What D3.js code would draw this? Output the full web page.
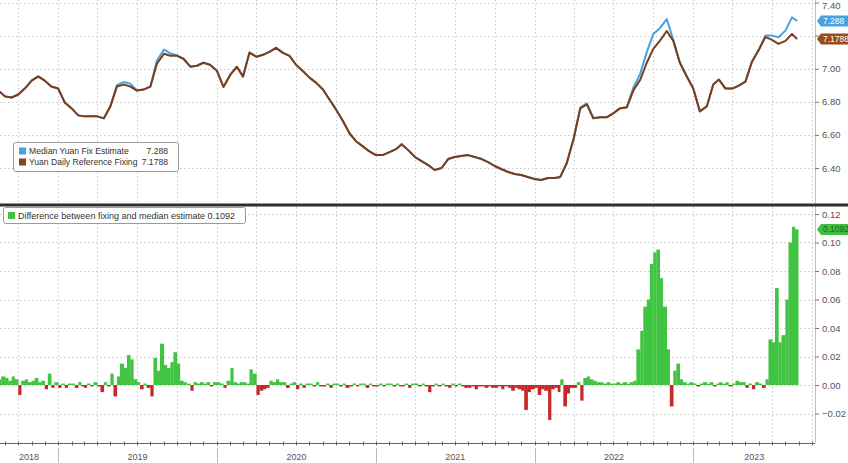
<!DOCTYPE html>
<html><head><meta charset="utf-8">
<script src="https://cdn.jsdelivr.net/npm/d3@7"></script>
<style>
body{margin:0;background:#fff;overflow:hidden;}
svg{display:block;font-family:"Liberation Sans",Arial,sans-serif;}
</style>
</head><body>
<svg id="c" width="848" height="463"></svg>
<script>
// ---------- DATA ----------
const lineDates = [
"2018-08-01","2018-08-16","2018-09-01","2018-09-16","2018-10-01","2018-10-16","2018-11-01","2018-11-16","2018-12-01","2018-12-16",
"2019-01-01","2019-01-16","2019-02-01","2019-02-16","2019-03-01","2019-03-16","2019-04-01","2019-04-16","2019-05-01","2019-05-16","2019-06-01","2019-06-16",
"2019-07-01","2019-07-16","2019-08-01","2019-08-16","2019-09-01","2019-09-16","2019-10-01","2019-10-16","2019-11-01","2019-11-16","2019-12-01","2019-12-16",
"2020-01-01","2020-01-16","2020-02-01","2020-02-16","2020-03-01","2020-03-16","2020-04-01","2020-04-16","2020-05-01","2020-05-16","2020-06-01","2020-06-16",
"2020-07-01","2020-07-16","2020-08-01","2020-08-16","2020-09-01","2020-09-16","2020-10-01","2020-10-16","2020-11-01","2020-11-16","2020-12-01","2020-12-16",
"2021-01-01","2021-01-16","2021-02-01","2021-02-16","2021-03-01","2021-03-16","2021-04-01","2021-04-16","2021-05-01","2021-05-16","2021-06-01","2021-06-16",
"2021-07-01","2021-07-16","2021-08-01","2021-08-16","2021-09-01","2021-09-16","2021-10-01","2021-10-16","2021-11-01","2021-11-16","2021-12-01","2021-12-16",
"2022-01-01","2022-01-16","2022-02-01","2022-02-16","2022-03-01","2022-03-16","2022-04-01","2022-04-16","2022-05-01","2022-05-16","2022-06-01","2022-06-16",
"2022-07-01","2022-07-16","2022-08-01","2022-08-16","2022-09-01","2022-09-16","2022-10-01","2022-10-16","2022-11-01","2022-11-16","2022-12-01","2022-12-16",
"2023-01-01","2023-01-16","2023-02-01","2023-02-16","2023-03-01","2023-03-16","2023-04-01","2023-04-16","2023-05-01","2023-05-16","2023-06-01","2023-06-16",
"2023-07-01","2023-07-16","2023-08-01","2023-08-16","2023-08-28"];

const fixValues = [
6.868,6.868,6.832,6.826,6.844,6.880,6.928,6.952,6.928,6.892,
6.880,6.796,6.760,6.718,6.712,6.712,6.712,6.700,6.772,6.892,6.904,6.892,
6.868,6.874,6.892,7.030,7.090,7.078,7.078,7.060,7.012,7.018,7.036,7.024,
6.988,6.890,6.964,7.012,6.952,7.096,7.072,7.084,7.102,7.126,7.096,7.078,
7.024,6.988,6.946,6.916,6.874,6.814,6.754,6.688,6.610,6.562,6.532,6.502,
6.478,6.478,6.496,6.514,6.544,6.508,6.466,6.442,6.418,6.388,6.400,6.454,
6.466,6.472,6.478,6.466,6.454,6.436,6.412,6.394,6.376,6.364,6.358,6.346,
6.334,6.328,6.340,6.340,6.346,6.430,6.580,6.760,6.784,6.700,6.706,6.706,
6.730,6.760,6.766,6.868,6.934,7.036,7.120,7.168,7.228,7.168,7.036,6.958,
6.880,6.742,6.772,6.904,6.934,6.880,6.880,6.898,6.922,7.042,7.114,7.192,
7.174,7.150,7.168,7.210,7.1788];

const estimateValues = [
6.868,6.868,6.832,6.826,6.844,6.880,6.930,6.955,6.928,6.892,
6.880,6.796,6.760,6.718,6.712,6.712,6.712,6.700,6.775,6.900,6.920,6.910,
6.868,6.874,6.892,7.050,7.115,7.092,7.082,7.060,7.012,7.018,7.036,7.024,
6.988,6.890,6.964,7.012,6.955,7.100,7.072,7.084,7.102,7.126,7.096,7.078,
7.024,6.988,6.946,6.916,6.874,6.814,6.754,6.688,6.610,6.562,6.532,6.502,
6.478,6.478,6.496,6.514,6.544,6.508,6.466,6.442,6.418,6.388,6.400,6.454,
6.466,6.472,6.478,6.466,6.454,6.436,6.412,6.394,6.376,6.364,6.358,6.346,
6.334,6.328,6.340,6.340,6.346,6.430,6.580,6.765,6.790,6.702,6.707,6.707,
6.731,6.761,6.768,6.885,6.970,7.100,7.210,7.245,7.300,7.175,7.038,6.959,
6.880,6.742,6.772,6.904,6.934,6.881,6.881,6.899,6.922,7.044,7.118,7.200,
7.200,7.190,7.230,7.310,7.288];

const diffMonths = [
"2018-08","2018-09","2018-10","2018-11","2018-12",
"2019-01","2019-02","2019-03","2019-04","2019-05","2019-06","2019-07","2019-08","2019-09","2019-10","2019-11","2019-12",
"2020-01","2020-02","2020-03","2020-04","2020-05","2020-06","2020-07","2020-08","2020-09","2020-10","2020-11","2020-12",
"2021-01","2021-02","2021-03","2021-04","2021-05","2021-06","2021-07","2021-08","2021-09","2021-10","2021-11","2021-12",
"2022-01","2022-02","2022-03","2022-04","2022-05","2022-06","2022-07","2022-08","2022-09","2022-10","2022-11","2022-12",
"2023-01","2023-02","2023-03","2023-04","2023-05","2023-06","2023-07","2023-08"];
const diffDays = ["01","08","16","23"];
const diffValues = [
0.004,0.005,0.004,0.006,  0.005,0.003,0.006,0.004,  -0.007,0.003,0.004,0.002,  0.003,0.005,0.002,0.003,  -0.003,0.008,-0.002,0.002,
-0.002,0.001,-0.002,0.001,  0.001,-0.002,0.002,-0.001,  -0.002,0.001,-0.001,0.002,  -0.001,-0.005,0.002,-0.001,
0.008,-0.008,0.006,0.015,  0.012,0.021,0.018,0.004,  0.002,-0.003,0.001,-0.002,  -0.008,0.019,0.010,0.029,
0.014,0.012,0.016,0.023,  0.015,0.003,0.002,0.001,  -0.004,0.002,0.001,0.002,  0.001,0.002,-0.001,0.002,
0.002,0.001,-0.002,0.003,  0.012,0.002,0.001,0.002,  0.002,0.001,0.011,0.008,  -0.007,-0.004,-0.003,-0.002,
0.003,0.002,0.004,0.002,  0.002,-0.002,0.001,0.002,  -0.003,0.001,-0.002,0.001,  0.001,-0.001,0.002,-0.001,
-0.001,0.001,-0.002,0.001,  0.001,-0.001,0.001,-0.002,  -0.001,0.001,-0.001,0.001,  0.001,-0.002,0.001,-0.001,
-0.001,0.001,-0.001,0.001,  0.001,-0.001,0.001,-0.001,  -0.001,0.001,-0.002,0.001,  0.001,-0.001,0.001,-0.001,
-0.005,-0.001,0.001,-0.001,  0.001,-0.001,-0.002,0.001,  -0.001,0.001,-0.001,-0.002,  -0.002,-0.001,-0.003,-0.001,
-0.001,-0.002,-0.001,-0.002,  -0.002,-0.001,-0.003,-0.001,  -0.002,-0.004,-0.002,-0.003,  -0.004,-0.0175,-0.005,-0.003,
-0.002,-0.007,-0.003,-0.004,  -0.0245,-0.003,-0.002,-0.005,  0.004,-0.015,-0.006,-0.002,  -0.002,0.002,-0.011,0.005,
0.006,0.004,0.003,0.002,  0.002,0.001,0.002,0.001,  0.001,0.002,0.001,0.002,  0.001,0.002,0.003,0.025,
0.038,0.055,0.060,0.085,  0.093,0.095,0.075,0.055,  0.025,-0.015,0.010,0.015,  0.004,0.002,0.001,0.002,
0.001,-0.001,0.001,0.002,  0.001,0.002,-0.001,0.001,  0.002,0.001,0.002,-0.001,  0.001,0.003,0.002,0.002,
-0.002,0.001,-0.003,0.002,  0.001,-0.002,0.004,0.032,  0.030,0.068,0.030,0.035,  0.060,0.100,0.111,0.1092];

const topTicks = [6.40, 6.60, 6.80, 7.00, 7.20, 7.40];
const bottomTicks = [-0.02, 0.00, 0.02, 0.04, 0.06, 0.08, 0.10, 0.12];
const yearLabels = ["2018","2019","2020","2021","2022","2023"];
const seriesNames = ["Median Yuan Fix Estimate", "Yuan Daily Reference Fixing", "Difference between fixing and median estimate"];

// ---------- SETUP ----------
const W = 848, H = 463, plotRight = 815;
const parse = d3.timeParse("%Y-%m-%d");
const svg = d3.select("#c");
const x = d3.scaleTime().domain([parse("2018-08-20"), parse("2023-10-08")]).range([0, plotRight]);
const yTop = d3.scaleLinear().domain([6.4, 7.4]).range([168, 2.5]);
const yBot = d3.scaleLinear().domain([-0.02, 0.12]).range([413.5, 214]);

const lineData = lineDates.map((d, i) => ({date: parse(d), fix: fixValues[i], est: estimateValues[i]}));
const diffData = [];
diffMonths.forEach((m, mi) => diffDays.forEach((dd, di) => {
  diffData.push({date: parse(m + "-" + dd), v: diffValues[mi * 4 + di]});
}));

const gridCol = "#c9c9c9";
const defs = svg.append("defs");
defs.append("clipPath").attr("id", "clipTop").append("rect").attr("x", 0).attr("y", 0).attr("width", plotRight).attr("height", 203);
defs.append("clipPath").attr("id", "clipBot").append("rect").attr("x", 0).attr("y", 206).attr("width", plotRight).attr("height", 237);

// quarterly vertical gridlines
const quarters = d3.timeMonth.every(3).range(x.domain()[0], x.domain()[1]);
[[0, 203], [207, 443]].forEach(([a, b]) => {
  svg.append("g").selectAll("line").data(quarters).join("line")
    .attr("x1", d => Math.round(x(d)) + 0.5).attr("x2", d => Math.round(x(d)) + 0.5)
    .attr("y1", a).attr("y2", b)
    .attr("stroke", gridCol).attr("stroke-dasharray", "1.5,2.5");
});

// horizontal gridlines
svg.append("g").selectAll("line").data(topTicks).join("line")
  .attr("x1", 0).attr("x2", plotRight).attr("y1", d => Math.round(yTop(d)) + 0.5).attr("y2", d => Math.round(yTop(d)) + 0.5)
  .attr("stroke", gridCol).attr("stroke-dasharray", "1.5,2.5");
svg.append("g").selectAll("line").data(bottomTicks).join("line")
  .attr("x1", 0).attr("x2", plotRight).attr("y1", d => Math.round(yBot(d)) + 0.5).attr("y2", d => Math.round(yBot(d)) + 0.5)
  .attr("stroke", gridCol).attr("stroke-dasharray", "1.5,2.5");

// ---------- TOP LINES ----------
const gTop = svg.append("g").attr("clip-path", "url(#clipTop)");
gTop.append("path").datum(lineData)
  .attr("d", d3.line().x(d => x(d.date)).y(d => yTop(d.est)))
  .attr("fill", "none").attr("stroke", "#48a2de").attr("stroke-width", 2).attr("stroke-linejoin", "round");
gTop.append("path").datum(lineData)
  .attr("d", d3.line().x(d => x(d.date)).y(d => yTop(d.fix)))
  .attr("fill", "none").attr("stroke", "#7e3c17").attr("stroke-width", 2).attr("stroke-linejoin", "round");

// ---------- BOTTOM BARS ----------
const gBot = svg.append("g").attr("clip-path", "url(#clipBot)");
gBot.selectAll("rect").data(diffData).join("rect")
  .attr("x", d => x(d.date))
  .attr("width", (d, i) => (i < diffData.length - 1 ? x(diffData[i + 1].date) - x(d.date) : 3.3) + 0.2)
  .attr("y", d => Math.min(yBot(0), yBot(d.v)))
  .attr("height", d => Math.max(0.8, Math.abs(yBot(d.v) - yBot(0))))
  .attr("fill", d => d.v >= 0 ? "#41c441" : "#c8282a");

// ---------- RIGHT AXES ----------
svg.append("line").attr("x1", plotRight + 0.5).attr("x2", plotRight + 0.5).attr("y1", 0).attr("y2", 443)
  .attr("stroke", "#a6cccc").attr("stroke-width", 1);

const axTop = svg.append("g").attr("transform", `translate(${plotRight},0)`)
  .call(d3.axisRight(yTop).tickValues(topTicks).tickFormat(d3.format(".2f")).tickSize(4).tickPadding(3));
const axBot = svg.append("g").attr("transform", `translate(${plotRight},0)`)
  .call(d3.axisRight(yBot).tickValues(bottomTicks).tickFormat(d3.format(".2f")).tickSize(4).tickPadding(3));
[axTop, axBot].forEach(a => {
  a.select(".domain").remove();
  a.selectAll(".tick line").attr("stroke", "#777");
  a.selectAll(".tick text").attr("fill", "#555").attr("font-size", 9.5).attr("font-family", "Liberation Sans, Arial, sans-serif");
});
// top label sits just inside the frame; the 7.20 label is hidden behind the value badges as in the reference
axTop.selectAll(".tick").filter(d => d === 7.4).select("text").attr("y", 3);
axTop.selectAll(".tick").filter(d => d === 7.2).select("text").remove();

// separator
svg.append("line").attr("x1", 0).attr("x2", W).attr("y1", 205).attr("y2", 205).attr("stroke", "#2e2e2e").attr("stroke-width", 3);

// ---------- BADGES ----------
function badge(yv, txt, fill, tcol) {
  const g = svg.append("g");
  g.append("path").attr("d", `M${plotRight + 2},${yv} L${plotRight + 6},${yv - 5.5} L${W},${yv - 5.5} L${W},${yv + 5.5} L${plotRight + 6},${yv + 5.5} Z`)
    .attr("fill", fill);
  g.append("text").attr("x", plotRight + 8).attr("y", yv).attr("dy", "0.35em")
    .attr("font-size", 8.5).attr("fill", tcol).text(txt);
}
const lastFix = fixValues[fixValues.length - 1];
const lastEst = estimateValues[estimateValues.length - 1];
const lastDiff = diffValues[diffValues.length - 1];
badge(yTop(lastEst), String(lastEst), "#48a2de", "#fff");
badge(yTop(lastFix), String(lastFix), "#9a4a1c", "#fff");
badge(yBot(lastDiff), String(lastDiff), "#3fbf3f", "#1f5f1f");

// ---------- X AXIS ----------
svg.append("line").attr("x1", 0).attr("x2", plotRight).attr("y1", 443.5).attr("y2", 443.5).attr("stroke", "#666");
const months = d3.timeMonth.range(x.domain()[0], x.domain()[1]);
svg.append("g").selectAll("line").data(months).join("line")
  .attr("x1", d => Math.round(x(d)) + 0.5).attr("x2", d => Math.round(x(d)) + 0.5)
  .attr("y1", 441.5).attr("y2", 445.5).attr("stroke", "#666");
const yearStarts = yearLabels.map(y => parse(y + "-01-01"));
svg.append("g").selectAll("line").data(yearStarts.slice(1)).join("line")
  .attr("x1", d => Math.round(x(d)) + 0.5).attr("x2", d => Math.round(x(d)) + 0.5)
  .attr("y1", 448).attr("y2", 463).attr("stroke", "#bbb");
svg.append("g").selectAll("text").data(yearLabels).join("text")
  .attr("x", (d, i) => {
    const a = Math.max(0, x(yearStarts[i]));
    const b = Math.min(plotRight, x(parse((+d + 1) + "-01-01")));
    return (a + b) / 2;
  })
  .attr("y", 457).attr("dy", "0.35em").attr("text-anchor", "middle")
  .attr("font-size", 9).attr("fill", "#555").text(d => d);

// ---------- LEGENDS ----------
const lg = svg.append("g");
lg.append("rect").attr("x", 13.5).attr("y", 142.5).attr("width", 165).attr("height", 29).attr("rx", 2)
  .attr("fill", "#fff").attr("stroke", "#9a9a9a");
[[seriesNames[0], lastEst, "#48a2de"], [seriesNames[1], lastFix, "#8a4218"]].forEach((e, i) => {
  const cy = 151 + i * 11;
  lg.append("rect").attr("x", 19).attr("y", cy - 3.5).attr("width", 7).attr("height", 7).attr("fill", e[2]);
  lg.append("text").attr("x", 29).attr("y", cy).attr("dy", "0.35em").attr("font-size", 8.6).attr("fill", "#333").text(e[0]);
  lg.append("text").attr("x", 168).attr("y", cy).attr("dy", "0.35em").attr("text-anchor", "end").attr("font-size", 8.6).attr("fill", "#333").text(String(e[1]));
});
const lg2 = svg.append("g");
lg2.append("rect").attr("x", 3.5).attr("y", 207.5).attr("width", 242).attr("height", 16).attr("rx", 2)
  .attr("fill", "#fff").attr("stroke", "#9a9a9a");
lg2.append("rect").attr("x", 8).attr("y", 212).attr("width", 7).attr("height", 7).attr("fill", "#41c441");
lg2.append("text").attr("x", 18).attr("y", 215.5).attr("dy", "0.35em").attr("font-size", 9).attr("fill", "#333")
  .text(seriesNames[2] + " " + lastDiff);
</script>
</body></html>
